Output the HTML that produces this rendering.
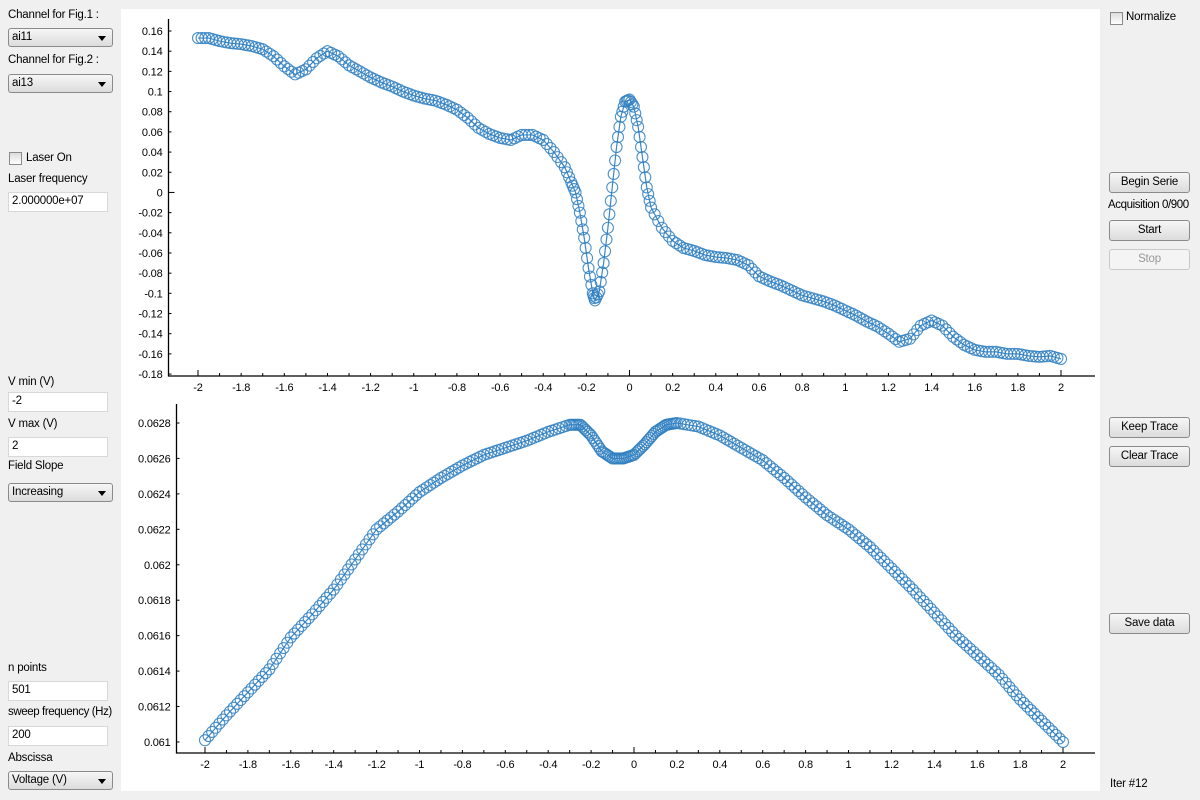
<!DOCTYPE html>
<html><head><meta charset="utf-8"><style>
body{margin:0;width:1200px;height:800px;background:#f0f0f0;font-family:"Liberation Sans",sans-serif;font-size:11.5px;color:#000;position:relative;overflow:hidden;letter-spacing:-0.2px}
.a{position:absolute}
.lbl{position:absolute;font-size:11.5px;white-space:nowrap}
.combo{position:absolute;left:8px;width:105px;height:19px;border:1px solid #8a8a8a;border-radius:3px;background:linear-gradient(#f6f6f6,#dcdcdc);box-sizing:border-box;padding:2px 0 0 3px;font-size:11.5px}
.combo:after{content:"";position:absolute;right:6px;top:7px;border-left:4px solid transparent;border-right:4px solid transparent;border-top:5px solid #000}
.inp{position:absolute;left:8px;width:100px;height:20px;border:1px solid #d8d8d8;background:#fff;box-sizing:border-box;padding:2px 0 0 3px;font-size:11.5px}
.btn{position:absolute;left:1109px;width:81px;height:21px;border:1px solid #8a8a8a;border-radius:3px;background:linear-gradient(#f6f6f6,#dcdcdc);box-sizing:border-box;text-align:center;padding-top:3px;font-size:11.5px}
.chk{position:absolute;width:11px;height:11px;border:1px solid #8a8a8a;background:linear-gradient(#ddd,#fff)}
</style></head><body>
<div class="lbl" style="left:8px;top:9px">Channel for Fig.1 :</div>
<div class="combo" style="top:28px">ai11</div>
<div class="lbl" style="left:8px;top:54px">Channel for Fig.2 :</div>
<div class="combo" style="top:74px">ai13</div>
<div class="chk" style="left:9px;top:152px"></div>
<div class="lbl" style="left:26px;top:152px">Laser On</div>
<div class="lbl" style="left:8px;top:173px">Laser frequency</div>
<div class="inp" style="top:192px">2.000000e+07</div>
<div class="lbl" style="left:8px;top:376px">V min (V)</div>
<div class="inp" style="top:392px">-2</div>
<div class="lbl" style="left:8px;top:418px">V max (V)</div>
<div class="inp" style="top:437px">2</div>
<div class="lbl" style="left:8px;top:460px">Field Slope</div>
<div class="combo" style="top:483px">Increasing</div>
<div class="lbl" style="left:8px;top:662px">n points</div>
<div class="inp" style="top:681px">501</div>
<div class="lbl" style="left:8px;top:706px;letter-spacing:-0.4px">sweep frequency (Hz)</div>
<div class="inp" style="top:726px">200</div>
<div class="lbl" style="left:8px;top:752px">Abscissa</div>
<div class="combo" style="top:771px">Voltage (V)</div>

<div class="chk" style="left:1110px;top:12px"></div>
<div class="lbl" style="left:1126px;top:11px">Normalize</div>
<div class="btn" style="top:172px">Begin Serie</div>
<div class="lbl" style="left:1108px;top:199px;letter-spacing:-0.4px">Acquisition 0/900</div>
<div class="btn" style="top:220px">Start</div>
<div class="btn" style="top:249px;color:#999;border-color:#c8c8c8;background:#f4f4f4">Stop</div>
<div class="btn" style="top:417px">Keep Trace</div>
<div class="btn" style="top:446px">Clear Trace</div>
<div class="btn" style="top:613px">Save data</div>
<div class="lbl" style="left:1110px;top:778px">Iter #12</div>

<svg class="a" style="left:0;top:0" width="1200" height="800">
<rect x="121" y="9" width="979" height="782" fill="#fff"/>
<g id="g1"></g>
<g id="g2"></g>
</svg>
<script>
const topX=[-2,-1.95,-1.9,-1.85,-1.8,-1.75,-1.7,-1.65,-1.6,-1.55,-1.5,-1.45,-1.4,-1.35,-1.3,-1.25,-1.2,-1.15,-1.1,-1.05,-1,-0.95,-0.9,-0.85,-0.8,-0.75,-0.7,-0.65,-0.6,-0.55,-0.5,-0.45,-0.4,-0.35,-0.3,-0.27,-0.25,-0.23,-0.21,-0.19,-0.17,-0.16,-0.14,-0.12,-0.1,-0.08,-0.06,-0.04,-0.02,0,0.02,0.04,0.06,0.08,0.1,0.15,0.2,0.25,0.3,0.35,0.4,0.45,0.5,0.55,0.6,0.65,0.7,0.75,0.8,0.85,0.9,0.95,1,1.05,1.1,1.15,1.2,1.25,1.3,1.35,1.4,1.45,1.5,1.55,1.6,1.65,1.7,1.75,1.8,1.85,1.9,1.95,2];
const topY=[0.153,0.153,0.15,0.148,0.147,0.145,0.142,0.135,0.125,0.117,0.122,0.133,0.14,0.135,0.126,0.12,0.114,0.109,0.105,0.1,0.096,0.093,0.091,0.087,0.082,0.074,0.064,0.058,0.054,0.052,0.057,0.057,0.052,0.04,0.025,0.01,0,-0.02,-0.045,-0.075,-0.1,-0.107,-0.098,-0.07,-0.035,0.005,0.045,0.075,0.09,0.092,0.085,0.065,0.035,0.005,-0.015,-0.035,-0.048,-0.055,-0.058,-0.062,-0.064,-0.065,-0.067,-0.072,-0.083,-0.088,-0.092,-0.097,-0.102,-0.105,-0.108,-0.112,-0.117,-0.122,-0.128,-0.133,-0.14,-0.148,-0.145,-0.132,-0.127,-0.132,-0.143,-0.151,-0.156,-0.158,-0.158,-0.16,-0.16,-0.162,-0.163,-0.162,-0.165];
const botX=[-2,-1.9,-1.8,-1.7,-1.6,-1.5,-1.4,-1.3,-1.2,-1.1,-1,-0.9,-0.8,-0.7,-0.6,-0.5,-0.4,-0.3,-0.25,-0.2,-0.15,-0.1,-0.05,0,0.05,0.1,0.15,0.2,0.3,0.4,0.5,0.6,0.7,0.8,0.9,1,1.1,1.2,1.3,1.4,1.5,1.6,1.7,1.8,1.9,2];
const botY=[0.06101,0.06115,0.06128,0.06141,0.06159,0.06172,0.06186,0.06203,0.0622,0.0623,0.06241,0.06249,0.06256,0.06262,0.06266,0.0627,0.06275,0.06279,0.06279,0.06273,0.06264,0.0626,0.0626,0.06262,0.06268,0.06275,0.06279,0.0628,0.06278,0.06273,0.06266,0.06259,0.06249,0.06238,0.06228,0.0622,0.0621,0.06198,0.06186,0.06173,0.0616,0.06149,0.06138,0.06124,0.06112,0.061];
const xTicks=[-2,-1.8,-1.6,-1.4,-1.2,-1,-0.8,-0.6,-0.4,-0.2,0,0.2,0.4,0.6,0.8,1,1.2,1.4,1.6,1.8,2];
const topYTicks=[0.16,0.14,0.12,0.1,0.08,0.06,0.04,0.02,0,-0.02,-0.04,-0.06,-0.08,-0.1,-0.12,-0.14,-0.16,-0.18];
const botYTicks=[0.0628,0.0626,0.0624,0.0622,0.062,0.0618,0.0616,0.0614,0.0612,0.061];
const NS="http://www.w3.org/2000/svg";
function mk(p,t,a){const e=document.createElementNS(NS,t);for(const k in a)e.setAttribute(k,a[k]);p.appendChild(e);return e;}
function chart(g,cfg){
  const sx=u=>cfg.x0+(u-cfg.xmin)*cfg.kx, sy=v=>cfg.y0+(cfg.ymax-v)*cfg.ky;
  const ax=mk(g,'path',{d:`M${cfg.ax} ${cfg.atop}V${cfg.ay}H1095`,stroke:'#000','stroke-width':1.3,fill:'none'});
  
  
  cfg.yt.forEach(v=>{
    mk(g,'line',{x1:cfg.ax,x2:cfg.ax+ (v===0?6:3),y1:sy(v),y2:sy(v),stroke:'#000'});
    const t=mk(g,'text',{x:cfg.ax-6,y:sy(v)+4,'text-anchor':'end','font-size':11,'font-family':'Liberation Sans, sans-serif'});
    t.textContent=String(v);
    
    
  });
  xTicks.forEach((u,i)=>{
    const X=sx(u);
    mk(g,'line',{x1:X,x2:X,y1:cfg.ay,y2:cfg.ay-((u===-2||u===0||u===2)?6:3),stroke:'#000'});
    if(i<xTicks.length-1)mk(g,'line',{x1:sx(u+0.1),x2:sx(u+0.1),y1:cfg.ay,y2:cfg.ay-3,stroke:'#000'});
    const t=mk(g,'text',{x:X,y:cfg.ay+15,'text-anchor':'middle','font-size':11,'font-family':'Liberation Sans, sans-serif'});
    t.textContent=String(u);
    
    
  });
  const pl=mk(g,'polyline',{points:cfg.xs.map((u,i)=>sx(u)+','+sy(cfg.ys[i])).join(' '),fill:'none',stroke:'#3a87c8','stroke-width':1.2});
  
  
  for(let i=0;i<cfg.xs.length;i++){
    const n=i<cfg.xs.length-1?cfg.dens:1;
    for(let j=0;j<n;j++){
      const f=j/n, u=cfg.xs[i]+(i<cfg.xs.length-1?(cfg.xs[i+1]-cfg.xs[i])*f:0), v=cfg.ys[i]+(i<cfg.xs.length-1?(cfg.ys[i+1]-cfg.ys[i])*f:0);
      const c=mk(g,'circle',{cx:sx(u),cy:sy(v),r:5.5,fill:'none',stroke:'#2f7fc1','stroke-width':1.1,'stroke-opacity':0.85});
      
      
    }
  }
}
chart(document.getElementById('g1'),{xs:topX,ys:topY,yt:topYTicks,x0:198,xmin:-2,kx:215.75,y0:31,ymax:0.16,ky:1009,ax:168.5,atop:19,ay:376,dens:3});
chart(document.getElementById('g2'),{xs:botX,ys:botY,yt:botYTicks,x0:205,xmin:-2,kx:214.5,y0:423,ymax:0.0628,ky:177200,ax:176.5,atop:404,ay:753,dens:6});
</script>
</body></html>
